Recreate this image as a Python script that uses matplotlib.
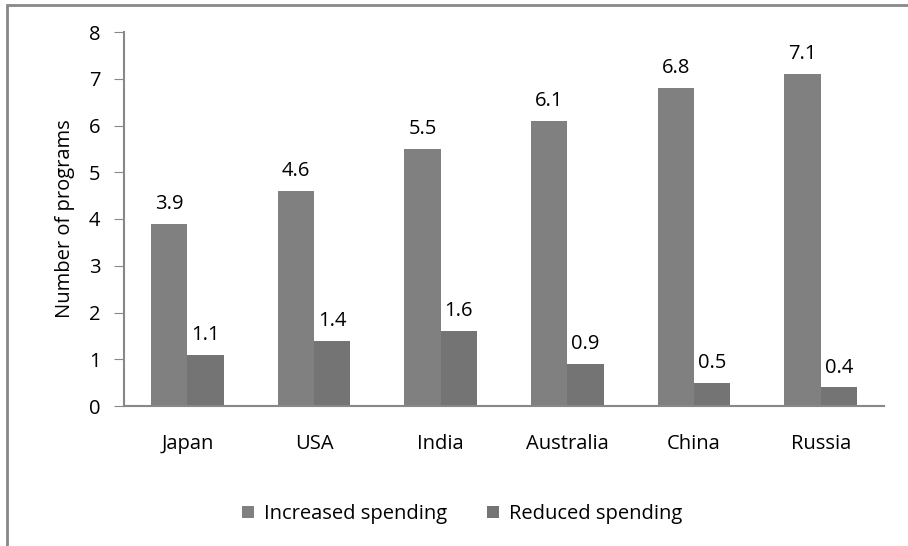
import matplotlib
matplotlib.use("Agg")
import matplotlib.pyplot as plt
from matplotlib.patches import Rectangle
import numpy as np

categories = ["Japan", "USA", "India", "Australia", "China", "Russia"]
increased = [3.9, 4.6, 5.5, 6.1, 6.8, 7.1]
reduced = [1.1, 1.4, 1.6, 0.9, 0.5, 0.4]
series_names = ["Increased spending", "Reduced spending"]
yticks = [0, 1, 2, 3, 4, 5, 6, 7, 8]

plt.rcParams['font.family'] = ['Open Sans', 'DejaVu Sans']
FS = 14.5

fig = plt.figure(figsize=(9.08, 5.46), dpi=100)
ax = fig.add_axes([124/908, 1-406/546, (884-124)/908, (406-32)/546])

x = np.arange(len(categories))
w = 0.286
b1 = ax.bar(x - w/2, increased, w, color="#808080", label=series_names[0])
b2 = ax.bar(x + w/2, reduced, w, color="#747474", label=series_names[1])

for bars, vals in ((b1, increased), (b2, reduced)):
    for r, v in zip(bars, vals):
        ax.annotate(f"{v}", (r.get_x() + r.get_width()/2, v), xytext=(0, 7),
                    textcoords="offset points", ha="center", va="bottom", fontsize=FS)

ax.set_xlim(-0.5, len(categories) - 0.5)
ax.set_ylim(0, 8)
ax.set_yticks(yticks)
ax.set_xticks(x)
ax.set_xticklabels(categories, fontsize=FS)
ax.tick_params(axis='y', labelsize=FS, length=7, color="#888888", pad=10)
ax.tick_params(axis='x', length=0, pad=20)
for s in ("top", "right"):
    ax.spines[s].set_visible(False)
for s in ("left", "bottom"):
    ax.spines[s].set_color("#888888")
    ax.spines[s].set_linewidth(1.5)
ax.set_ylabel("Number of programs", fontsize=FS, labelpad=10)

fig.legend(handles=[b1, b2], labels=series_names, loc="center", bbox_to_anchor=(462/908, 1-514/546),
           ncol=2, frameon=False, fontsize=FS, handlelength=0.6, handleheight=0.6,
           columnspacing=2.0, handletextpad=0.5)

fig.patches.append(Rectangle((7/908, -0.1), 1.2, 1 - 5/546 + 0.1, transform=fig.transFigure,
                             fill=False, edgecolor="#888888", linewidth=2))

fig.savefig("out.png", dpi=100)
